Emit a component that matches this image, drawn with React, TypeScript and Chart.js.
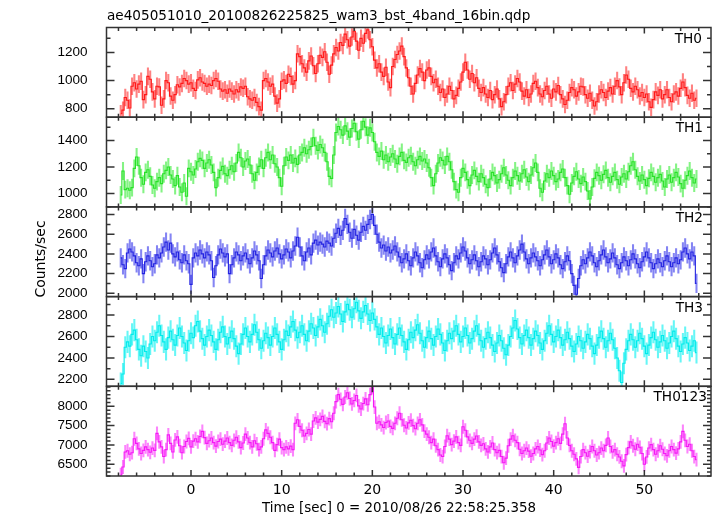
import { useEffect, useRef } from "react";
import { Chart, registerables } from "chart.js";

Chart.register(...registerables);

const TITLE = "ae405051010_20100826225825_wam3_bst_4band_16bin.qdp";
const X_LABEL = "Time [sec] 0 = 2010/08/26 22:58:25.358";
const Y_LABEL = "Counts/sec";

// time bins: centre of first bin and bin width (s)
const T_START = -7.75;
const T_STEP = 0.25;
const X_MIN = -9.32;
const X_MAX = 57.35;
const X_TICKS = [0, 10, 20, 30, 40, 50];

const PANEL_NAMES = ["TH0", "TH1", "TH2", "TH3", "TH0123"];

const TH0 = [
  765, 790, 880, 860, 805, 960, 985, 940, 975, 995, 865, 900, 1030, 1010, 920, 870, 960, 955, 825, 870,
  1000, 985, 890, 860, 900, 970, 955, 980, 1015, 1000, 975, 985, 945, 930, 1005, 1020, 990, 980, 960, 975,
  965, 1000, 1015, 995, 940, 925, 935, 910, 940, 925, 905, 935, 920, 955, 945, 960, 885, 870, 860, 880,
  845, 815, 790, 1000, 1015, 990, 960, 975, 890, 840, 870, 995, 1005, 980, 1045, 1030, 975, 1000, 1190, 1170,
  1120, 1090, 1060, 1140, 1175, 1105, 1050, 1120, 1180, 1165, 1205, 1130, 1045, 1110, 1190, 1235, 1210, 1270, 1250, 1330,
  1290, 1245, 1310, 1350, 1280, 1215, 1300, 1265, 1335, 1360, 1290, 1240, 1145, 1090, 1120, 1060, 1030, 1095, 990, 950,
  1100, 1150, 1185, 1210, 1245, 1170, 1090, 1020, 960, 905, 980, 1040, 1085, 1060, 1000, 1075, 1090, 1030, 985, 1010,
  960, 915, 940, 880, 905, 960, 930, 870, 895, 945, 990, 1060, 1130, 1075, 1010, 1050, 985, 1020, 945, 915,
  950, 905, 880, 930, 865, 900, 940, 870, 815, 850, 900, 960, 985, 930, 975, 1015, 990, 925, 890, 935,
  880, 905, 980, 995, 950, 905, 885, 930, 960, 905, 875, 940, 920, 965, 900, 870, 830, 860, 915, 950,
  935, 890, 920, 960, 955, 900, 875, 910, 860, 820, 850, 905, 935, 915, 880, 925, 950, 905, 960, 1000,
  955, 900, 985, 1040, 1010, 945, 920, 960, 935, 890, 915, 880, 905, 850, 810, 865, 920, 895, 935, 870,
  900, 935, 880, 850, 905, 920, 890, 945, 990, 950, 895, 875, 910, 860, 875,
];

const TH1 = [
  990, 1170, 1030, 1040, 1025, 1045, 1190, 1275, 1210, 1120, 1070, 1160, 1180, 1130, 1065, 1040, 1090, 1120, 1075, 1150,
  1175, 1200, 1140, 1110, 1060, 1135, 1050, 1010, 1080, 980, 1190, 1165, 1140, 1185, 1240, 1265, 1250, 1190, 1230, 1255,
  1215, 1160, 1045, 1120, 1175, 1205, 1150, 1135, 1180, 1210, 1165, 1230, 1310, 1270, 1200, 1245, 1260, 1215, 1150, 1100,
  1160, 1205, 1255, 1190, 1270, 1310, 1255, 1290, 1225, 1200, 1120, 1055, 1210, 1275, 1250, 1290, 1230, 1265, 1220, 1290,
  1310, 1345, 1300, 1330, 1355, 1420, 1360, 1325, 1370, 1345, 1310, 1240, 1130, 1115, 1290, 1460, 1505, 1480, 1440, 1510,
  1470, 1425, 1490, 1530, 1465, 1410, 1480, 1545, 1500, 1440, 1495, 1460, 1390, 1310, 1280, 1320, 1255, 1290, 1240, 1275,
  1300, 1260, 1225, 1280, 1310, 1250, 1235, 1270, 1285, 1240, 1210, 1255, 1280, 1245, 1260, 1230, 1195, 1120, 1060, 1150,
  1230, 1270, 1250, 1215, 1280, 1240, 1180, 1090, 1030, 1010, 1120, 1190, 1160, 1105, 1060, 1140, 1175, 1130, 1090, 1150,
  1120, 1070, 1045, 1110, 1160, 1135, 1080, 1105, 1150, 1195, 1140, 1100, 1060, 1120, 1170, 1135, 1095, 1150, 1180, 1125,
  1090, 1140, 1195, 1230, 1160, 1040, 1010, 1095, 1150, 1120, 1170, 1135, 1090, 1110, 1160, 1185, 1120, 1060, 995, 1080,
  1130, 1165, 1110, 1075, 1125, 1090, 1020, 960, 1050, 1115, 1160, 1135, 1100, 1145, 1175, 1120, 1085, 1130, 1160, 1105,
  1070, 1125, 1150, 1110, 1165, 1210, 1240, 1180, 1130, 1095, 1140, 1105, 1060, 1115, 1160, 1130, 1085, 1120, 1145, 1095,
  1050, 1110, 1140, 1085, 1120, 1160, 1125, 1075, 1040, 1100, 1135, 1170, 1120, 1080, 1110,
];

const TH2 = [
  2360, 2290, 2250, 2410, 2450, 2420, 2380, 2310, 2280, 2350, 2200, 2320, 2380, 2330, 2270, 2300, 2390, 2360, 2410, 2470,
  2520, 2440, 2510, 2400, 2370, 2420, 2340, 2310, 2390, 2330, 2300, 2090, 2360, 2410, 2380, 2440, 2400, 2360, 2420, 2390,
  2330, 2160, 2280, 2390, 2450, 2410, 2370, 2400, 2200, 2290, 2360, 2420, 2390, 2330, 2380, 2410, 2350, 2300, 2360, 2430,
  2390, 2330, 2150, 2290, 2380, 2440, 2410, 2370, 2430, 2460, 2400, 2350, 2390, 2450, 2420, 2360, 2430, 2480, 2570, 2470,
  2380, 2330, 2420, 2460, 2390, 2510, 2540, 2490, 2520, 2500, 2470, 2530, 2510, 2480, 2560, 2610, 2660, 2590, 2640, 2760,
  2700, 2620, 2560, 2650, 2590, 2540, 2620, 2680, 2640, 2700, 2750, 2800, 2690, 2600, 2520, 2460, 2490, 2430, 2470, 2410,
  2440, 2480, 2420, 2370, 2310, 2350, 2400, 2330, 2280, 2360, 2420, 2380, 2310, 2260, 2340, 2390, 2350, 2420, 2460, 2380,
  2320, 2270, 2350, 2400, 2360, 2290, 2230, 2310, 2380, 2350, 2410, 2470, 2430, 2360, 2300, 2340, 2390, 2330, 2270, 2320,
  2380, 2350, 2290, 2340, 2410, 2460, 2390, 2320, 2260, 2210, 2300, 2370, 2420, 2360, 2310, 2380, 2440, 2500, 2420, 2350,
  2300, 2360, 2410, 2370, 2330, 2280, 2340, 2390, 2440, 2370, 2300, 2340, 2400, 2360, 2290, 2250, 2320, 2380, 2330, 2200,
  2080, 1990, 2150, 2280, 2340, 2300, 2360, 2420, 2380, 2310, 2270, 2330, 2390, 2440, 2370, 2310, 2350, 2410, 2360, 2290,
  2250, 2310, 2370, 2330, 2280, 2340, 2400, 2350, 2300, 2260, 2320, 2370, 2420, 2360, 2310, 2250, 2300, 2350, 2310, 2270,
  2330, 2380, 2320, 2270, 2310, 2360, 2300, 2340, 2420, 2460, 2400, 2350, 2420, 2380, 2100,
];

const TH3 = [
  2160, 2250, 2500, 2550, 2510, 2620, 2660, 2570, 2480, 2420, 2510, 2460, 2400, 2530, 2600, 2560, 2640, 2700, 2610, 2550,
  2480, 2590, 2650, 2570, 2520, 2610, 2680, 2600, 2540, 2470, 2560, 2630, 2590, 2700, 2740, 2650, 2580, 2520, 2600, 2660,
  2610, 2550, 2480, 2570, 2640, 2690, 2600, 2530, 2590, 2650, 2580, 2510, 2440, 2530, 2620, 2680, 2600, 2550, 2620, 2710,
  2640, 2570, 2490, 2560, 2630, 2590, 2520, 2600, 2680, 2620, 2550, 2480, 2570, 2650, 2610, 2690, 2740, 2660, 2590, 2640,
  2700, 2620, 2560, 2650, 2720, 2680, 2610, 2690, 2760, 2700, 2640, 2720, 2790, 2850, 2780, 2820, 2880, 2810, 2740, 2830,
  2900, 2850, 2780, 2860, 2920, 2840, 2770, 2830, 2890, 2810, 2750, 2820, 2760, 2690, 2620, 2680, 2600, 2540, 2610, 2670,
  2590, 2530, 2620, 2680, 2610, 2550, 2480, 2570, 2640, 2590, 2660, 2710, 2630, 2560, 2500, 2590, 2650, 2580, 2520, 2600,
  2670, 2620, 2540, 2470, 2560, 2630, 2580, 2650, 2700, 2620, 2550, 2600, 2680, 2610, 2540, 2580, 2650, 2700, 2620, 2560,
  2500, 2580, 2640, 2590, 2520, 2460, 2540, 2610, 2560, 2490, 2430, 2520, 2600, 2680, 2750, 2670, 2590, 2530, 2610, 2660,
  2590, 2520, 2580, 2650, 2610, 2540, 2480, 2560, 2630, 2700, 2620, 2550, 2600, 2660, 2590, 2520, 2570, 2640, 2580, 2510,
  2460, 2530, 2600, 2560, 2490, 2550, 2620, 2580, 2510, 2440, 2520, 2590, 2650, 2580, 2500, 2560, 2630, 2570, 2490, 2400,
  2280, 2170, 2350, 2480, 2560, 2620, 2570, 2500, 2560, 2630, 2580, 2510, 2440, 2520, 2590, 2640, 2570, 2500, 2550, 2610,
  2560, 2490, 2540, 2600, 2650, 2580, 2510, 2460, 2530, 2590, 2540, 2470, 2510, 2560, 2450,
];

const TH0123 = [
  6230, 6430, 6820, 6850, 6760, 6800, 7160, 7040, 6900, 6780, 6860, 6950, 6880, 6810, 6920, 6860, 7300, 7080, 6950, 6700,
  6880, 7260, 7040, 6820, 7130, 7210, 6980, 6800, 6960, 7090, 7170, 6950, 7100, 7160, 7080, 7220, 7350, 7190, 7040, 7110,
  7180, 7060, 6970, 7090, 7150, 7020, 7100, 7180, 7060, 6990, 7120, 7200, 7080, 6930, 7050, 7280, 7180, 7060, 6950, 7110,
  7030, 6880, 6950, 7160, 7390, 7300, 7200, 7060, 6860, 7010, 7150, 6930, 6880, 6950, 6900, 6970, 6880, 7560, 7650, 7480,
  7380, 7230, 7300, 7400, 7280, 7620, 7700, 7590, 7660, 7740, 7610, 7550, 7680, 7600, 7820, 8120, 8300, 8180, 8050, 8240,
  8350, 8200, 8060, 8150, 8280, 8010, 7930, 8070, 8190, 8040, 8300, 8480, 7980, 7560, 7600, 7520, 7450, 7580, 7620, 7480,
  7430, 7560, 7690, 7820, 7650, 7510, 7440, 7570, 7640, 7500, 7420, 7560, 7650, 7520, 7360, 7280, 7200, 7060, 7150, 6980,
  6880, 6740, 6700, 6960, 7240, 7150, 7010, 7100, 7210, 7060, 6990, 7470, 7380, 7210, 7120, 7040, 7150, 7230, 7080, 6990,
  7030, 6900, 6820, 6950, 7050, 6880, 6800, 6860, 6700, 6540, 6660, 6980, 7150, 7240, 7120, 7060, 6890, 6780, 6850, 6920,
  6840, 6710, 6780, 6900, 6960, 6870, 6750, 6850, 7050, 7180, 7090, 6970, 7060, 7160, 7040, 7280, 7550, 7180, 6990, 6850,
  6760, 6640, 6420, 6700, 6880, 6800, 6710, 6830, 6960, 6850, 6740, 6800, 6920, 6850, 6990, 7180, 6960, 6820, 6880, 6760,
  6690, 6580, 6460, 6750, 6930, 7080, 6980, 6890, 7020, 6940, 6780, 6500, 6690, 6920, 7010, 6880, 6760, 6850, 6980, 6890,
  6780, 6720, 6850, 6960, 6880, 6790, 6900, 7080, 7350, 7120, 6960, 7020, 6850, 6700, 6620,
];

// typical 1-sigma error of each band (counts/sec)
const ERRORS = [60, 65, 95, 100, 170];

// y ranges and labelled ticks
const RANGES = [
  [740, 1377],
  [900, 1575],
  [1966, 2878],
  [2135, 2973],
  [6198, 8516],
];
const TH0_TICKS = [800, 1000, 1200];
const TH1_TICKS = [1000, 1200, 1400];
const TH2_TICKS = [2000, 2200, 2400, 2600, 2800];
const TH3_TICKS = [2200, 2400, 2600, 2800];
const TH0123_TICKS = [6500, 7000, 7500, 8000];
const MINOR_STEPS = [100, 100, 100, 100, 100];

const LINE_COLORS = ["rgb(255,25,25)", "rgb(40,225,40)", "rgb(35,35,225)", "rgb(0,235,235)", "rgb(245,25,245)"];
const ERR_COLORS = [
  "rgba(255,45,45,0.6)",
  "rgba(50,235,50,0.6)",
  "rgba(50,50,235,0.6)",
  "rgba(0,240,240,0.6)",
  "rgba(250,50,250,0.6)",
];
const LABEL_RIGHT = [702, 703, 703, 703, 707];

const SERIES = [TH0, TH1, TH2, TH3, TH0123];
const TICKS = [TH0_TICKS, TH1_TICKS, TH2_TICKS, TH3_TICKS, TH0123_TICKS];

const FRAME = "#333";

const qdpPlugin = {
  id: "qdp",
  beforeDatasetDraw(chart: any, args: any) {
    const ys = chart.scales[args.meta.yAxisID];
    const a = chart.chartArea;
    const ctx = chart.ctx;
    ctx.save();
    ctx.beginPath();
    ctx.rect(a.left, ys.top, a.right - a.left, ys.bottom - ys.top);
    ctx.clip();
  },
  afterDatasetDraw(chart: any) {
    chart.ctx.restore();
  },
  afterDraw(chart: any) {
    const ctx = chart.ctx;
    const a = chart.chartArea;
    const xs = chart.scales.x;
    ctx.save();
    ctx.strokeStyle = FRAME;
    ctx.lineWidth = 1.5;
    PANEL_NAMES.forEach((name, k) => {
      const ys = chart.scales["y" + k];
      const [mn, mx] = RANGES[k];
      ctx.strokeRect(a.left, ys.top, a.right - a.left, ys.bottom - ys.top);
      ctx.beginPath();
      const st = MINOR_STEPS[k];
      for (let v = Math.ceil(mn / st) * st; v <= mx; v += st) {
        const y = ys.getPixelForValue(v);
        const len = TICKS[k].includes(v) ? 8 : 4;
        ctx.moveTo(a.left, y);
        ctx.lineTo(a.left + len, y);
        ctx.moveTo(a.right, y);
        ctx.lineTo(a.right - len, y);
      }
      for (let t = -8; t <= 56; t += 2) {
        const x = xs.getPixelForValue(t);
        const len = t % 10 === 0 ? 6 : 3.5;
        ctx.moveTo(x, ys.top);
        ctx.lineTo(x, ys.top + len);
        ctx.moveTo(x, ys.bottom);
        ctx.lineTo(x, ys.bottom - len);
      }
      ctx.stroke();
      ctx.fillStyle = "#000";
      ctx.font = '13.7px "DejaVu Sans"';
      ctx.textAlign = "right";
      ctx.textBaseline = "alphabetic";
      ctx.fillText(name, LABEL_RIGHT[k], ys.top + 15);
    });
    ctx.fillStyle = "#000";
    ctx.textAlign = "left";
    ctx.textBaseline = "alphabetic";
    ctx.font = '13.6px "DejaVu Sans"';
    ctx.fillText(TITLE, 107, 20);
    ctx.font = '13.4px "DejaVu Sans"';
    ctx.fillText(X_LABEL, 262, 511.5);
    ctx.save();
    ctx.translate(41, 259);
    ctx.rotate(-Math.PI / 2);
    ctx.textAlign = "center";
    ctx.textBaseline = "middle";
    ctx.font = '14px "DejaVu Sans"';
    ctx.fillText(Y_LABEL, 0, 0);
    ctx.restore();
    ctx.restore();
  },
};

function timeOf(i: number) {
  return T_START + i * T_STEP;
}

function buildConfig(): any {
  const datasets: any[] = [];
  SERIES.forEach((vals, k) => {
    const err = ERRORS[k];
    datasets.push({
      type: "bar",
      data: vals.map((v, i) => ({ x: timeOf(i), y: [v - err, v + err] })),
      yAxisID: "y" + k,
      xAxisID: "x",
      backgroundColor: ERR_COLORS[k],
      borderWidth: 0,
      barThickness: 1.4,
      grouped: false,
      order: 2,
    });
    datasets.push({
      type: "line",
      data: vals.map((v, i) => ({ x: timeOf(i), y: v })),
      yAxisID: "y" + k,
      xAxisID: "x",
      borderColor: LINE_COLORS[k],
      borderWidth: 1.1,
      pointRadius: 0,
      pointHoverRadius: 0,
      stepped: "middle",
      fill: false,
      order: 1,
    });
  });

  const scales: any = {
    x: {
      type: "linear",
      position: "bottom",
      min: X_MIN,
      max: X_MAX,
      offset: false,
      grid: { display: false, drawTicks: false },
      border: { display: false },
      ticks: {
        autoSkip: false,
        maxRotation: 0,
        padding: 6,
        color: "#000",
        font: { family: "DejaVu Sans", size: 14 },
        callback: (v: any) => String(v),
      },
      afterBuildTicks: (s: any) => {
        s.ticks = X_TICKS.map((v) => ({ value: v }));
      },
      afterFit: (s: any) => {
        s.height = 40;
      },
    },
  };
  for (let k = PANEL_NAMES.length - 1; k >= 0; k--) {
    const tk = TICKS[k];
    scales["y" + k] = {
      type: "linear",
      position: "left",
      stack: "panels",
      stackWeight: 1,
      min: RANGES[k][0],
      max: RANGES[k][1],
      offset: false,
      grid: { display: false, drawTicks: false },
      border: { display: false },
      ticks: {
        autoSkip: false,
        padding: 19,
        color: "#000",
        font: { family: "Liberation Sans", size: 13.5 },
        callback: (v: any) => String(v),
      },
      afterBuildTicks: (s: any) => {
        s.ticks = tk.map((v) => ({ value: v }));
      },
      afterFit: (s: any) => {
        s.width = 106.5;
      },
    };
  }

  return {
    type: "line",
    data: { datasets },
    options: {
      responsive: false,
      animation: false,
      devicePixelRatio: 1,
      events: [],
      layout: { padding: { top: 27.5, right: 6, bottom: 0, left: 0 } },
      plugins: { legend: { display: false }, tooltip: { enabled: false }, title: { display: false } },
      scales,
    },
    plugins: [qdpPlugin],
  };
}

export default function App() {
  const ref = useRef<HTMLCanvasElement>(null);
  useEffect(() => {
    const chart = new Chart(ref.current as HTMLCanvasElement, buildConfig());
    return () => chart.destroy();
  }, []);
  return (
    <div style={{ position: "fixed", left: 0, top: 0, width: 717, height: 516, background: "#fff" }}>
      <canvas ref={ref} width={717} height={516} style={{ width: 717, height: 516, display: "block" }} />
    </div>
  );
}
